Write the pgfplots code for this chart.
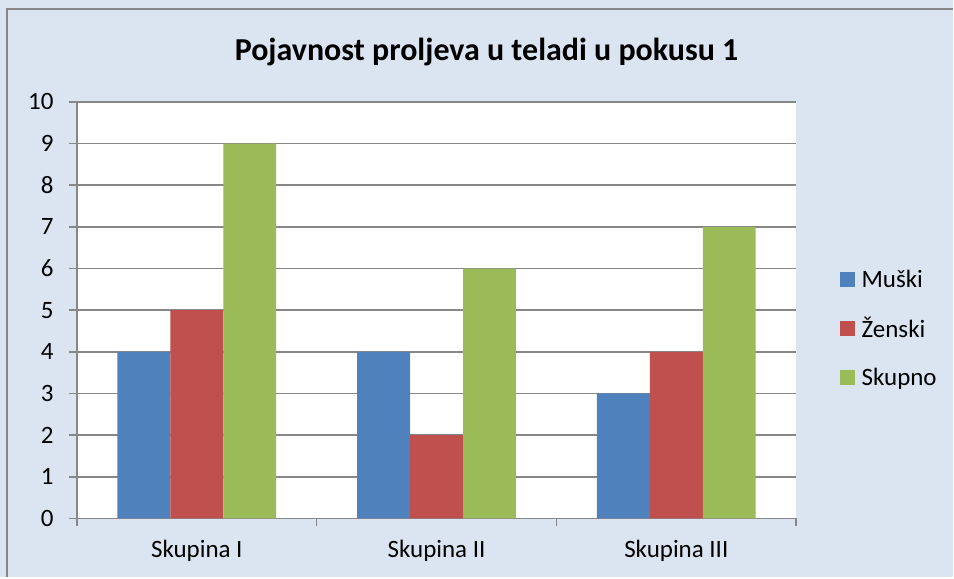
\documentclass[border=0pt]{standalone}
\usepackage{pgfplots}
\pgfplotsset{compat=1.18}
\usepackage{fontspec}
\setmainfont{Carlito}
\definecolor{bgc}{HTML}{DBE5F1}
\definecolor{gridc}{HTML}{878787}
\definecolor{cblue}{HTML}{4F81BD}
\definecolor{cred}{HTML}{C0504D}
\definecolor{cgreen}{HTML}{9BBB59}
\begin{document}
\begin{tikzpicture}[x=1pt,y=1pt]
\fill[bgc] (0,0) rectangle (954,578);
\draw[gridc, line width=2pt] (7.5,0) -- (7.5,569) -- (954,569);
\node[font=\fontsize{32}{36}\selectfont\bfseries, anchor=center] at (487,526) {Pojavnost proljeva u teladi u pokusu 1};
\begin{axis}[
  at={(77pt,59pt)}, anchor=south west,
  width=720pt, height=417pt, scale only axis,
  ybar=0pt, bar width=53pt,
  xmin=-0.5, xmax=2.5, ymin=0, ymax=10,
  xtick={0,1,2}, xticklabels={Skupina I, Skupina II, Skupina III},
  minor xtick={-0.5,0.5,1.5,2.5},
  ytick={0,1,...,10},
  axis background/.style={fill=white},
  axis x line*=bottom, axis y line*=left,
  axis line style={gridc, line width=1.5pt, -},
  ymajorgrids, major grid style={gridc, line width=1.5pt},
  tick style={gridc, line width=1.5pt},
  tick align=outside,
  x tick style={draw=none},
  minor x tick style={draw=gridc, line width=1.5pt},
  minor tick length=8pt, major tick length=8pt,
  tick label style={font=\fontsize{25}{30}\selectfont, text=black},
  /pgf/number format/assume math mode=true,
  xticklabel style={yshift=-10pt},
  yticklabel style={xshift=-12pt},
  legend style={at={(rel axis cs:1.056,0.456)}, anchor=west, draw=none, fill=none,
    font=\fontsize{25}{30}\selectfont, row sep=25pt, cells={anchor=west}},
  legend image code/.code={\fill[#1] (0pt,-7.5pt) rectangle (15pt,7.5pt); \path (20pt,0pt);},
]
\addplot[fill=cblue, draw=none] coordinates {(0,4) (1,4) (2,3)};
\addplot[fill=cred, draw=none] coordinates {(0,5) (1,2) (2,4)};
\addplot[fill=cgreen, draw=none] coordinates {(0,9) (1,6) (2,7)};
\legend{Muški, Ženski, Skupno}
\end{axis}
\end{tikzpicture}
\end{document}
